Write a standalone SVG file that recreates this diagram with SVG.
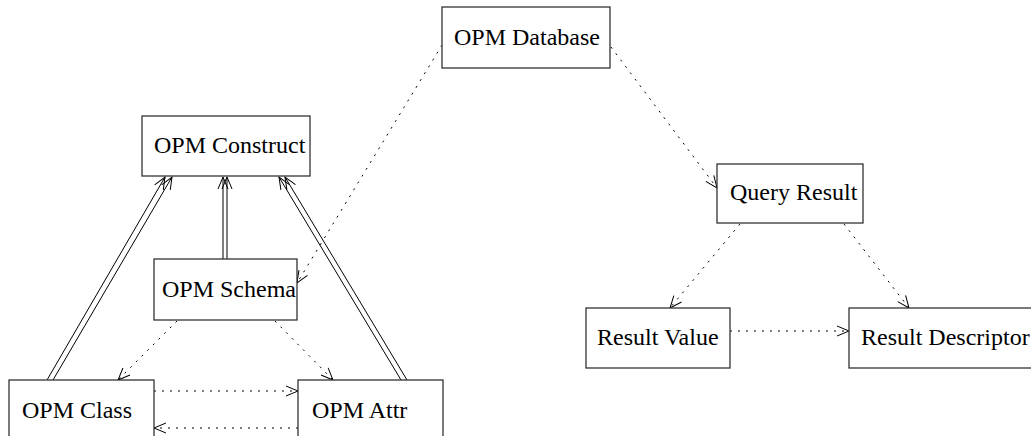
<svg xmlns="http://www.w3.org/2000/svg" width="1031" height="436" viewBox="0 0 1031 436">
  <style>
    .box { fill: #ffffff; stroke: #333333; stroke-width: 1.3; }
    .label { font-family: "Liberation Serif", "Times New Roman", serif; font-size: 24px; fill: #000000; }
    .solid { fill: none; stroke: #000000; stroke-width: 1; }
    .dotted { fill: none; stroke: #000000; stroke-width: 1; stroke-dasharray: 2 6; }
    .head { fill: none; stroke: #000000; stroke-width: 1; stroke-dasharray: none; }
  </style>
  <defs>
    <marker id="open" markerUnits="userSpaceOnUse" markerWidth="16" markerHeight="14" viewBox="-14 -7 16 14" refX="0" refY="0" orient="auto">
      <path class="head" d="M-12,-5 L0,0 L-12,5"/>
    </marker>
  </defs>
  <rect width="1031" height="436" fill="#ffffff"/>

  <g id="connectors">
    <!-- inheritance: double lines into OPM Construct -->
    <line class="solid" x1="47" y1="380" x2="165" y2="177" marker-end="url(#open)"/>
    <line class="solid" x1="53" y1="380" x2="172" y2="177" marker-end="url(#open)"/>
    <line class="solid" x1="223" y1="259" x2="223" y2="177" marker-end="url(#open)"/>
    <line class="solid" x1="227" y1="259" x2="227" y2="177" marker-end="url(#open)"/>
    <line class="solid" x1="401" y1="380" x2="279" y2="177" marker-end="url(#open)"/>
    <line class="solid" x1="407" y1="380" x2="285" y2="177" marker-end="url(#open)"/>

    <!-- references -->
    <line class="dotted" x1="442" y1="45" x2="297" y2="283" marker-end="url(#open)"/>
    <line class="dotted" x1="611" y1="47" x2="717" y2="188" marker-end="url(#open)"/>
    <line class="dotted" x1="740" y1="224" x2="670" y2="308" marker-end="url(#open)"/>
    <line class="dotted" x1="844" y1="224" x2="909" y2="308" marker-end="url(#open)"/>
    <line class="dotted" x1="730" y1="331" x2="849" y2="331" marker-end="url(#open)"/>
    <line class="dotted" x1="177" y1="321" x2="118" y2="380" marker-end="url(#open)"/>
    <line class="dotted" x1="275" y1="321" x2="333" y2="380" marker-end="url(#open)"/>
    <line class="dotted" x1="154" y1="391" x2="298" y2="391" marker-end="url(#open)"/>
    <line class="dotted" x1="298" y1="428" x2="154" y2="428" marker-end="url(#open)"/>
  </g>

  <g id="opm-database">
    <rect class="box" x="442" y="7" width="168" height="61"/>
    <text class="label" x="454" y="45">OPM Database</text>
  </g>
  <g id="opm-construct">
    <rect class="box" x="142" y="116" width="168" height="60"/>
    <text class="label" x="154" y="153">OPM Construct</text>
  </g>
  <g id="opm-schema">
    <rect class="box" x="154" y="259" width="143" height="61"/>
    <text class="label" x="162" y="297">OPM Schema</text>
  </g>
  <g id="opm-class">
    <rect class="box" x="9" y="380" width="145" height="62"/>
    <text class="label" x="22" y="418">OPM Class</text>
  </g>
  <g id="opm-attr">
    <rect class="box" x="298" y="380" width="145" height="62"/>
    <text class="label" x="312" y="418">OPM Attr</text>
  </g>
  <g id="query-result">
    <rect class="box" x="717" y="164" width="146" height="59"/>
    <text class="label" x="730" y="200">Query Result</text>
  </g>
  <g id="result-value">
    <rect class="box" x="586" y="308" width="144" height="60"/>
    <text class="label" x="597" y="345">Result Value</text>
  </g>
  <g id="result-descriptor">
    <rect class="box" x="849" y="308" width="190" height="60"/>
    <text class="label" x="861" y="345">Result Descriptor</text>
  </g>
</svg>
